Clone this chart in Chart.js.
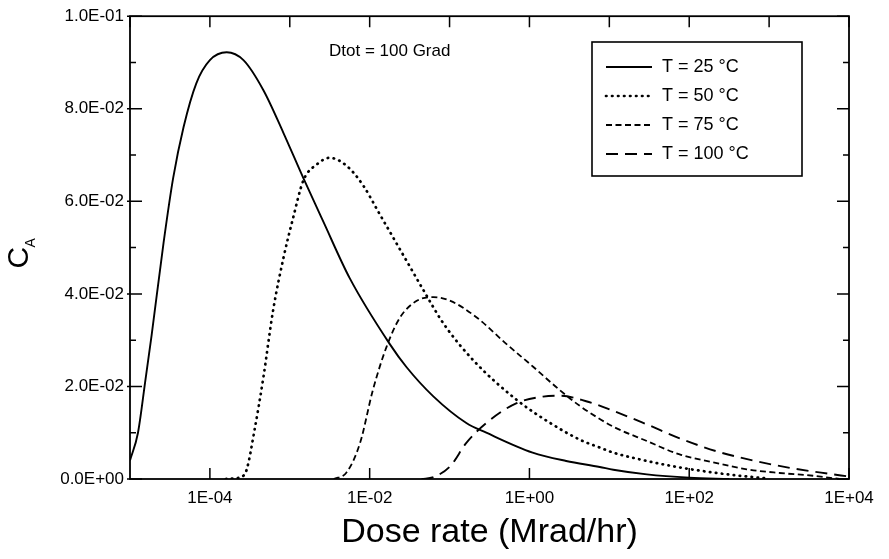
<!DOCTYPE html>
<html>
<head>
<meta charset="utf-8">
<script src="https://cdn.jsdelivr.net/npm/chart.js@4.4.1/dist/chart.umd.min.js"></script>
<style>
  html, body { margin: 0; padding: 0; background: #ffffff; }
  #wrap { width: 889px; height: 559px; position: relative; }
</style>
</head>
<body>
<div id="wrap"><canvas id="c" width="889" height="559"></canvas></div>
<script>
// ---- Data (x given as log10 of dose rate, Mrad/hr) ----
const seriesLabels = ['T = 25 °C', 'T = 50 °C', 'T = 75 °C', 'T = 100 °C'];

const t25LogDose = [-5.0, -4.9, -4.81, -4.73, -4.58, -4.46, -4.33, -4.17, -4.0, -3.79, -3.58, -3.33, -3.08, -2.83, -2.58, -2.25, -1.75, -1.54, -1.2, -0.79, -0.54, 0.04, 0.46, 0.88, 1.05, 1.47, 2.0, 2.5];
const t25Ca = [0.004, 0.010, 0.021, 0.031, 0.051, 0.065, 0.076, 0.0855, 0.0905, 0.0922, 0.0905, 0.084, 0.0748, 0.065, 0.0556, 0.0434, 0.0292, 0.0242, 0.0178, 0.0121, 0.0100, 0.0057, 0.0039, 0.0026, 0.0020, 0.0010, 0.0003, 0.0];

const t50LogDose = [-3.8, -3.6, -3.54, -3.44, -3.33, -3.21, -3.08, -2.96, -2.83, -2.66, -2.5, -2.29, -2.08, -1.9, -1.62, -1.33, -1.08, -0.7, -0.16, 0.26, 0.63, 0.88, 1.05, 1.47, 1.88, 2.3, 2.63, 3.0];
const t50Ca = [0.0, 0.0005, 0.002, 0.0107, 0.022, 0.0363, 0.0477, 0.0563, 0.0645, 0.068, 0.0694, 0.0677, 0.0634, 0.0580, 0.0496, 0.0409, 0.0337, 0.0256, 0.0171, 0.0121, 0.0085, 0.0068, 0.0057, 0.0039, 0.0025, 0.0014, 0.0007, 0.0001];

const t75LogDose = [-2.45, -2.29, -2.12, -1.96, -1.79, -1.62, -1.41, -1.2, -0.99, -0.66, -0.29, 0.05, 0.38, 0.63, 0.84, 1.05, 1.47, 1.88, 2.3, 2.72, 3.13, 3.55, 3.88];
const t75Ca = [0.0, 0.0014, 0.0078, 0.0192, 0.0285, 0.0349, 0.0385, 0.0393, 0.0385, 0.0349, 0.0292, 0.0242, 0.0192, 0.0158, 0.0134, 0.0113, 0.0082, 0.0053, 0.0036, 0.0021, 0.0013, 0.0007, 0.0];

const t100LogDose = [-1.35, -1.2, -0.99, -0.79, -0.54, -0.16, 0.17, 0.38, 0.71, 1.01, 1.47, 1.88, 2.34, 2.8, 3.26, 3.76, 3.97];
const t100Ca = [0.0, 0.0004, 0.0028, 0.0078, 0.0121, 0.0164, 0.0178, 0.018, 0.0168, 0.0150, 0.0118, 0.0088, 0.0060, 0.0040, 0.0024, 0.0011, 0.0006];

const xDecadeExps = [-5, -4, -3, -2, -1, 0, 1, 2, 3, 4];
const xLabelExps = [-4, -2, 0, 2, 4];
const yMajorTicks = [0, 0.02, 0.04, 0.06, 0.08, 0.10];
const yMinorTicks = [0.01, 0.03, 0.05, 0.07, 0.09];
const yTickLabels = ['0.0E+00', '2.0E-02', '4.0E-02', '6.0E-02', '8.0E-02', '1.0E-01'];
const xTitle = 'Dose rate (Mrad/hr)';
const yTitleMain = 'C';
const yTitleSub = 'A';
const annotationText = 'Dtot = 100 Grad';

// ---- helpers ----
function toPoints(logs, vals) {
  return logs.map((e, i) => ({ x: Math.pow(10, e), y: vals[i] }));
}
function expLabel(e) {
  const s = e < 0 ? '-' : '+';
  const a = Math.abs(e);
  return '1E' + s + (a < 10 ? '0' : '') + a;
}

const FONT = '"Liberation Sans", Arial, Helvetica, sans-serif';

const styles = [
  { borderDash: [], borderWidth: 1.9, borderCapStyle: 'butt' },
  { borderDash: [0.5, 5.5], borderWidth: 2.7, borderCapStyle: 'round' },
  { borderDash: [6, 3.5], borderWidth: 1.8, borderCapStyle: 'butt' },
  { borderDash: [12, 7], borderWidth: 1.9, borderCapStyle: 'butt' }
];
const seriesData = [
  toPoints(t25LogDose, t25Ca),
  toPoints(t50LogDose, t50Ca),
  toPoints(t75LogDose, t75Ca),
  toPoints(t100LogDose, t100Ca)
];

const datasets = seriesData.map((d, i) => Object.assign({
  label: seriesLabels[i],
  data: d,
  borderColor: '#000',
  backgroundColor: '#000',
  pointRadius: 0,
  fill: false,
  tension: 0.4,
  cubicInterpolationMode: 'monotone'
}, styles[i]));

const framePlugin = {
  id: 'frame',
  afterDraw(chart) {
    const ctx = chart.ctx;
    const a = chart.chartArea;
    const xs = chart.scales.x, ys = chart.scales.y;
    ctx.save();
    ctx.strokeStyle = '#000';
    ctx.lineWidth = 1.8;
    ctx.setLineDash([]);
    ctx.strokeRect(a.left, a.top, a.right - a.left, a.bottom - a.top);
    ctx.lineWidth = 1.5;
    ctx.beginPath();
    // top ticks at every decade
    xDecadeExps.forEach(e => {
      const px = xs.getPixelForValue(Math.pow(10, e));
      ctx.moveTo(px, a.top); ctx.lineTo(px, a.top + 11);
    });
    // bottom ticks at labelled decades
    xLabelExps.forEach(e => {
      const px = xs.getPixelForValue(Math.pow(10, e));
      ctx.moveTo(px, a.bottom); ctx.lineTo(px, a.bottom - 11);
    });
    // y ticks
    yMajorTicks.forEach(v => {
      const py = ys.getPixelForValue(v);
      ctx.moveTo(a.left - 3, py); ctx.lineTo(a.left + 12, py);
      ctx.moveTo(a.right, py); ctx.lineTo(a.right - 12, py);
    });
    yMinorTicks.forEach(v => {
      const py = ys.getPixelForValue(v);
      ctx.moveTo(a.left, py); ctx.lineTo(a.left + 6, py);
      ctx.moveTo(a.right, py); ctx.lineTo(a.right - 6, py);
    });
    ctx.stroke();

    // y title C_A (rotated)
    ctx.fillStyle = '#000';
    ctx.translate(20, ys.getPixelForValue(0.05) + 10);
    ctx.rotate(-Math.PI / 2);
    ctx.font = '30px ' + FONT;
    ctx.textAlign = 'center';
    ctx.textBaseline = 'middle';
    ctx.fillText(yTitleMain, 0, 0);
    ctx.font = '14px ' + FONT;
    ctx.textAlign = 'left';
    ctx.fillText(yTitleSub, 10, 11);
    ctx.restore();

    // annotation
    ctx.save();
    ctx.fillStyle = '#000';
    ctx.font = '17px ' + FONT;
    ctx.textAlign = 'left';
    ctx.textBaseline = 'middle';
    ctx.fillText(annotationText, 329, 51);
    ctx.restore();

    // legend
    ctx.save();
    const lx = 592, ly = 42, lw = 210, lh = 134;
    ctx.strokeStyle = '#000';
    ctx.lineWidth = 1.6;
    ctx.strokeRect(lx, ly, lw, lh);
    ctx.font = '18px ' + FONT;
    ctx.textAlign = 'left';
    ctx.textBaseline = 'middle';
    ctx.fillStyle = '#000';
    chart.data.datasets.forEach((ds, i) => {
      const y = ly + 25 + i * 29;
      ctx.beginPath();
      ctx.setLineDash(ds.borderDash || []);
      ctx.lineWidth = ds.borderWidth;
      ctx.lineCap = ds.borderCapStyle;
      ctx.moveTo(lx + 14, y); ctx.lineTo(lx + 60, y);
      ctx.stroke();
      ctx.setLineDash([]);
      ctx.fillText(ds.label, lx + 70, y);
    });
    ctx.restore();
  }
};

new Chart(document.getElementById('c'), {
  type: 'line',
  data: { datasets },
  options: {
    responsive: false,
    animation: false,
    events: [],
    layout: { padding: { top: 12, right: 40, left: 0, bottom: 0 } },
    plugins: { legend: { display: false }, tooltip: { enabled: false }, title: { display: false } },
    scales: {
      x: {
        type: 'logarithmic',
        min: 1e-5,
        max: 1e4,
        grid: { display: false, drawTicks: false },
        border: { display: false },
        afterBuildTicks(scale) {
          scale.ticks = xDecadeExps.map(e => ({ value: Math.pow(10, e) }));
        },
        afterFit(scale) { scale.height = 80; },
        ticks: {
          autoSkip: false,
          maxRotation: 0,
          padding: 9,
          color: '#000',
          font: { family: FONT, size: 17 },
          callback(value) {
            const e = Math.round(Math.log10(value));
            return xLabelExps.includes(e) ? expLabel(e) : '';
          }
        },
        title: {
          display: true,
          text: xTitle,
          color: '#000',
          font: { family: FONT, size: 34 },
          padding: { top: 0, bottom: 6 }
        }
      },
      y: {
        type: 'linear',
        min: 0,
        max: 0.1,
        grid: { display: false, drawTicks: false },
        border: { display: false },
        afterBuildTicks(scale) {
          scale.ticks = yMajorTicks.map(v => ({ value: v }));
        },
        afterFit(scale) { scale.width = 130; },
        ticks: {
          padding: 6,
          color: '#000',
          font: { family: FONT, size: 17 },
          callback(value) {
            const idx = yMajorTicks.findIndex(v => Math.abs(v - value) < 1e-9);
            return idx >= 0 ? yTickLabels[idx] : '';
          }
        }
      }
    }
  },
  plugins: [framePlugin]
});
</script>
</body>
</html>
